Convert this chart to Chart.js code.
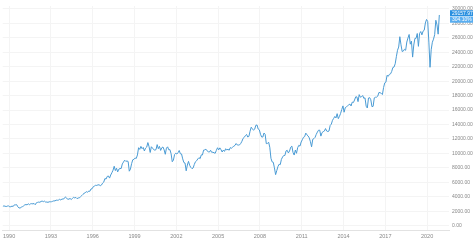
<!DOCTYPE html>
<html>
<head>
<meta charset="utf-8">
<script src="https://cdn.jsdelivr.net/npm/chart.js@4.4.1/dist/chart.umd.min.js"></script>
<style>
  html, body { margin: 0; padding: 0; background: #ffffff; }
  #wrap { width: 474px; height: 240px; position: relative; }
</style>
</head>
<body>
<div id="wrap"><canvas id="grafico"></canvas></div>
<script>
// cierres mensuales, jul 1989 -> nov 2020
const inicio = 1989 + 6.5 / 12;
const cierres = [
  2661, 2737, 2693, 2645, 2706, 2753,
  2591, 2627, 2707, 2657, 2877, 2881, 2905, 2614, 2453, 2442, 2560, 2634,
  2736, 2882, 2914, 2888, 3028, 2907, 3025, 3044, 3017, 3069, 2895, 3169,
  3223, 3268, 3236, 3359, 3397, 3319, 3394, 3257, 3272, 3226, 3306, 3301,
  3310, 3371, 3435, 3428, 3527, 3516, 3540, 3651, 3555, 3681, 3684, 3754,
  3978, 3832, 3636, 3682, 3758, 3625, 3765, 3913, 3843, 3908, 3739, 3834,
  3844, 4011, 4158, 4321, 4465, 4556, 4709, 4611, 4789, 4756, 5075, 5117,
  5395, 5485, 5588, 5569, 5643, 5655, 5529, 5616, 5882, 6029, 6522, 6448,
  6813, 6878, 6584, 7009, 7331, 7673, 8223, 7622, 7945, 7442, 7823, 7908,
  7907, 8546, 8800, 9063, 8900, 8952, 8883, 7539, 7843, 8592, 9117, 9181,
  9359, 9307, 9786, 10789, 10560, 10971, 10655, 10829, 10337, 10729, 10878, 11497,
  10941, 10128, 10922, 10734, 10522, 10448, 10522, 11215, 10651, 10971, 10415, 10788,
  10887, 10495, 9879, 10735, 10912, 10502, 10523, 9950, 8848, 9075, 9852, 10021,
  9920, 10106, 10404, 9946, 9925, 9243, 8737, 8664, 7592, 8397, 8896, 8342,
  8054, 7891, 7992, 8480, 8850, 8985, 9234, 9416, 9275, 9801, 9782, 10454,
  10488, 10584, 10358, 10226, 10188, 10435, 10140, 10174, 10080, 10027, 10428, 10783,
  10490, 10766, 10504, 10193, 10467, 10275, 10641, 10482, 10569, 10440, 10806, 10718,
  10865, 10993, 11109, 11367, 11168, 11150, 11186, 11381, 11679, 12081, 12222, 12463,
  12622, 12269, 12354, 13063, 13628, 13409, 13212, 13358, 13896, 13930, 13372, 13265,
  12650, 12266, 12263, 12820, 12638, 11350, 11378, 11544, 10851, 9325, 8829, 8776,
  8001, 7063, 7609, 8168, 8500, 8447, 9172, 9496, 9712, 9713, 10345, 10428,
  10067, 10325, 10857, 11009, 10137, 9774, 10466, 10015, 10788, 11118, 11006, 11578,
  11892, 12226, 12320, 12811, 12570, 12414, 12143, 11614, 10913, 11955, 12046, 12218,
  12633, 12952, 13212, 13214, 12393, 12880, 13009, 13091, 13437, 13096, 13026, 13104,
  13861, 14054, 14579, 14840, 15116, 14910, 15500, 14810, 15130, 15546, 16086, 16577,
  15699, 16322, 16458, 16581, 16717, 16827, 16563, 17098, 17043, 17391, 17828, 17823,
  17165, 18133, 17776, 17841, 18011, 17620, 17690, 16528, 16285, 17664, 17720, 17425,
  16466, 16517, 17685, 17774, 17787, 17930, 18432, 18401, 18308, 18142, 19124, 19763,
  19864, 20812, 20663, 20941, 21009, 21350, 21891, 21948, 22405, 23377, 24272, 24719,
  26149, 25029, 24103, 24163, 24416, 24271, 25415, 25965, 26458, 25116, 25538, 23327,
  24999, 25916, 25929, 26593, 24815, 26600, 26864, 26403, 26917, 27046, 28051, 28538,
  28256, 25409, 21917, 24346, 25383, 25813, 26428, 28430, 27782, 26502, 29158,
];

const anosEje = [1990, 1993, 1996, 1999, 2002, 2005, 2008, 2011, 2014, 2017, 2020];
const nivelesEje = [0, 2000, 4000, 6000, 8000, 10000, 12000, 14000, 16000, 18000, 20000, 22000, 24000, 26000, 28000, 30000];

const ultimoValor = 29157.97;
const etiquetasDerecha = ["29157.97", "304.10%"];
const coloresEtiquetas = ["#2a90e0", "#5aaef0"];

const colorLinea = "#4a9bd4";
const colorGrid = "#f4f4f4";
const colorTexto = "#888888";
const fuente = "'Liberation Sans', Arial, sans-serif";

const puntos = cierres.map((v, i) => ({ x: inicio + i / 12, y: v }));

const pluginEtiquetas = {
  id: "pluginEtiquetas",
  afterDraw(chart) {
    const { ctx, chartArea, scales } = chart;
    const yUltimo = scales.y.getPixelForValue(ultimoValor);
    const alto = 6.5;
    ctx.save();
    ctx.font = `5px ${fuente}`;
    ctx.textBaseline = "middle";
    ctx.textAlign = "left";
    etiquetasDerecha.forEach((texto, i) => {
      const top = yUltimo - alto / 2 - 1.5 + i * alto;
      ctx.fillStyle = coloresEtiquetas[i];
      ctx.fillRect(chartArea.right + 1, top, 474 - chartArea.right - 2, alto - 0.5);
      ctx.fillStyle = "#ffffff";
      ctx.fillText(texto, chartArea.right + 3, top + alto / 2);
    });
    ctx.restore();
  },
};

new Chart(document.getElementById("grafico").getContext("2d"), {
  type: "line",
  data: {
    datasets: [
      {
        data: puntos,
        borderColor: colorLinea,
        borderWidth: 1,
        pointRadius: 0,
        tension: 0,
        fill: false,
      },
    ],
  },
  options: {
    responsive: true,
    maintainAspectRatio: false,
    animation: false,
    layout: { padding: 0 },
    plugins: {
      legend: { display: false },
      tooltip: { enabled: false },
    },
    scales: {
      x: {
        type: "linear",
        min: inicio,
        max: 2021.57,
        afterBuildTicks: (axis) => {
          axis.ticks = anosEje.map((v) => ({ value: v }));
        },
        afterFit: (axis) => {
          axis.height = 10;
        },
        ticks: {
          autoSkip: false,
          maxRotation: 0,
          padding: 3,
          color: colorTexto,
          font: { size: 5.5, family: fuente },
          callback: (v) => String(v),
        },
        grid: { color: colorGrid, drawTicks: false },
        border: { color: "#e2e2e2" },
      },
      y: {
        type: "linear",
        position: "right",
        min: -600,
        max: 30400,
        afterBuildTicks: (axis) => {
          axis.ticks = nivelesEje.map((v) => ({ value: v }));
        },
        afterFit: (axis) => {
          axis.width = 25;
        },
        ticks: {
          autoSkip: false,
          padding: 3,
          color: colorTexto,
          font: { size: 5, family: fuente },
          callback: (v) => Number(v).toFixed(2),
        },
        grid: { color: colorGrid, drawTicks: false },
        border: { display: false },
      },
    },
  },
  plugins: [pluginEtiquetas],
});
</script>
</body>
</html>
